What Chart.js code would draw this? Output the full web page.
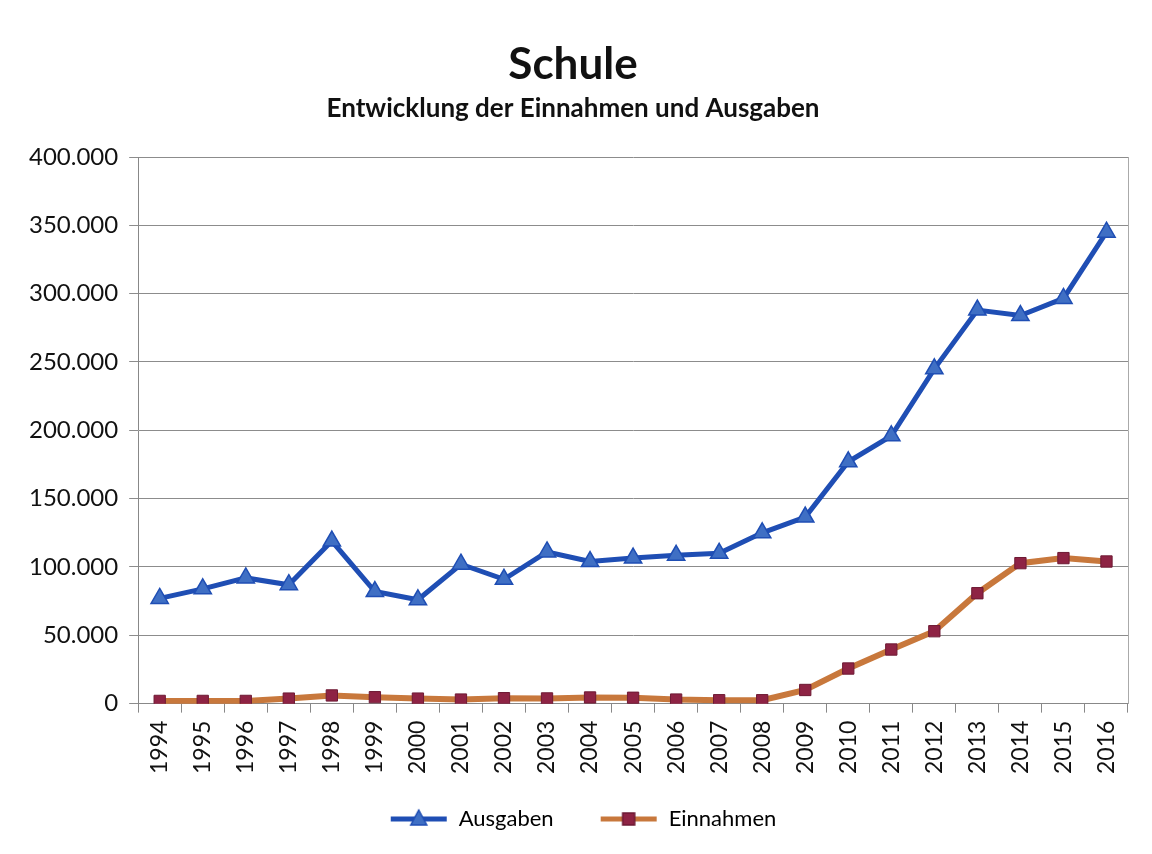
<!DOCTYPE html>
<html>
<head>
<meta charset="utf-8">
<script src="https://cdn.jsdelivr.net/npm/chart.js@4"></script>
<style>
  html, body { margin: 0; padding: 0; background: #fff; }
  #box { width: 1152px; height: 854px; }
</style>
</head>
<body>
<div id="box"><canvas id="grafico" width="1152" height="854"></canvas></div>
<script>
const jahre = ["1994", "1995", "1996", "1997", "1998", "1999", "2000", "2001", "2002", "2003", "2004", "2005",
  "2006", "2007", "2008", "2009", "2010", "2011", "2012", "2013", "2014", "2015", "2016"];
const ausgaben = [77000, 84000, 92000, 87000, 119000, 82000, 76000, 102000, 91000, 111000, 104000, 106500,
  108500, 110000, 125000, 136500, 177000, 196000, 245000, 288000, 284000, 296500, 345000];
const einnahmen = [2000, 2000, 2000, 3700, 6000, 4700, 3700, 3000, 4000, 3800, 4500, 4300,
  3000, 2500, 2500, 10000, 25700, 39600, 53000, 80800, 102800, 106500, 104000];

const schrift = "Lato, 'Open Sans', sans-serif";
const blau = "#1f4eb4";
const blauMarker = "#3f6fc4";
const orange = "#c8783c";
const bordeaux = "#8e2344";

function tausender(v) {
  return String(v).replace(/\B(?=(\d{3})+(?!\d))/g, ".");
}

// kleines Bild fuer die Legende: Linie mit Marker, links etwas Luft
function legendenBild(farbe, markerFarbe, randFarbe, form) {
  const c = document.createElement("canvas");
  c.width = 78; c.height = 22;
  const g = c.getContext("2d");
  g.strokeStyle = farbe;
  g.lineWidth = 5;
  g.beginPath(); g.moveTo(21, 11); g.lineTo(77, 11); g.stroke();
  g.fillStyle = markerFarbe;
  g.strokeStyle = randFarbe;
  g.lineWidth = 1.5;
  g.beginPath();
  if (form === "dreieck") {
    g.moveTo(49, 2); g.lineTo(57, 17); g.lineTo(41, 17); g.closePath();
  } else {
    g.rect(43, 5, 12, 12);
  }
  g.fill(); g.stroke();
  return c;
}

const bildAusgaben = legendenBild(blau, blauMarker, blau, "dreieck");
const bildEinnahmen = legendenBild(orange, bordeaux, "#6e1a34", "quadrat");

new Chart(document.getElementById("grafico"), {
  type: "line",
  data: {
    labels: jahre,
    datasets: [
      {
        label: "Ausgaben",
        data: ausgaben,
        borderColor: blau,
        borderWidth: 5,
        pointStyle: "triangle",
        pointRadius: 10,
        pointBackgroundColor: blauMarker,
        pointBorderColor: blau,
        pointBorderWidth: 1.5,
        tension: 0
      },
      {
        label: "Einnahmen",
        data: einnahmen,
        borderColor: orange,
        borderWidth: 6,
        pointStyle: "rect",
        pointRadius: 8,
        pointBackgroundColor: bordeaux,
        pointBorderColor: "#6e1a34",
        pointBorderWidth: 1,
        tension: 0
      }
    ]
  },
  options: {
    responsive: false,
    animation: false,
    layout: { padding: { top: 38, right: 24, left: 18, bottom: 14 } },
    plugins: {
      title: {
        display: true,
        text: "Schule",
        color: "#111",
        font: { family: schrift, size: 44, weight: "bold" },
        padding: { top: 0, bottom: 2 }
      },
      subtitle: {
        display: true,
        text: "Entwicklung der Einnahmen und Ausgaben",
        color: "#111",
        font: { family: schrift, size: 26, weight: "bold" },
        padding: { top: 0, bottom: 33 }
      },
      legend: {
        position: "bottom",
        labels: {
          usePointStyle: true,
          pointStyleWidth: 78,
          color: "#111",
          font: { family: schrift, size: 22 },
          padding: 26,
          generateLabels: () => [
            { text: "Ausgaben", pointStyle: bildAusgaben, fillStyle: blau, strokeStyle: blau, lineWidth: 0, datasetIndex: 0 },
            { text: "Einnahmen", pointStyle: bildEinnahmen, fillStyle: orange, strokeStyle: orange, lineWidth: 0, datasetIndex: 1 }
          ]
        }
      },
      tooltip: { enabled: false }
    },
    scales: {
      x: {
        offset: true,
        grid: { offset: true, drawOnChartArea: false, drawTicks: true, tickLength: 9, color: "#888" },
        border: { color: "#888" },
        ticks: {
          color: "#111",
          maxRotation: 90,
          minRotation: 90,
          autoSkip: false,
          padding: 8,
          font: { family: schrift, size: 23 }
        }
      },
      y: {
        min: 0,
        max: 400000,
        grid: { color: "#8c8c8c", tickLength: 9 },
        border: { color: "#888" },
        ticks: {
          stepSize: 50000,
          color: "#111",
          padding: 11,
          font: { family: schrift, size: 24 },
          callback: v => tausender(v)
        }
      },
      rechts: {
        position: "right",
        min: 0,
        max: 400000,
        grid: { drawOnChartArea: false, drawTicks: false },
        border: { color: "#aaa" },
        ticks: { display: false }
      }
    }
  }
});
</script>
</body>
</html>
